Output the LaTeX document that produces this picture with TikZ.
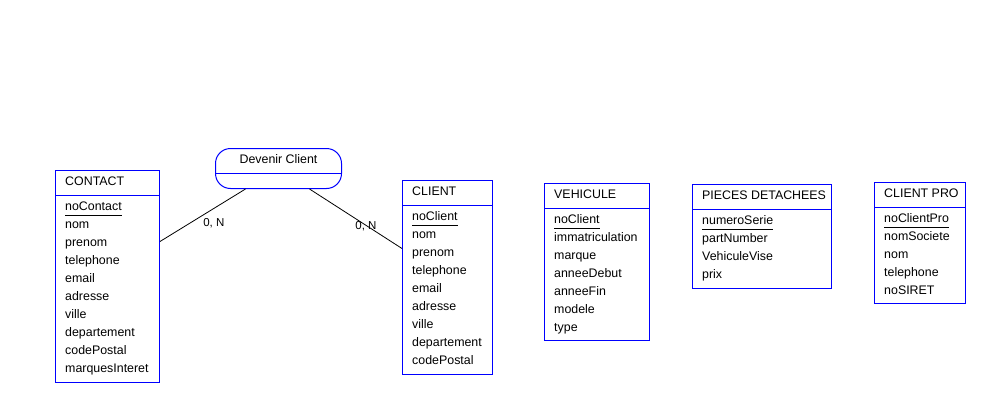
\documentclass[tikz,border=0pt]{standalone}
\usepackage{fontspec}
\setmainfont{Liberation Sans}
\usetikzlibrary{positioning}
\tikzset{
  entity/.style = {draw=blue, line width=1pt, anchor=north west,
    inner sep=0pt},
  attr/.style = {anchor=base west, inner sep=0pt,
    font=\fontsize{12.4}{14}\selectfont},
  assoc/.style = {entity, rounded corners=15pt},
  card/.style = {inner sep=1pt, font=\fontsize{11.5}{14}\selectfont}
}
% name, x, y, width, height, title, attributes
\newcommand{\mcdentity}[7]{%
  \node [entity, minimum width=#4pt, minimum height=#5pt] (#1) at (#2,#3) {};
  \node [attr] (#1-title) at ([xshift=10pt, yshift=-15.5pt]#1.north west) {#6};
  \draw [blue, line width=1pt] ([yshift=-25pt]#1.north west)
    -- ([yshift=-25pt]#1.north east);
  \foreach \a [count=\i] in {#7} {
    \pgfmathsetmacro{\dy}{-40.5-18*(\i-1)}
    \node [attr] (#1-\i) at ([xshift=10pt, yshift=\dy pt]#1.north west) {\a};
  }
  \draw [line width=1pt] ([yshift=-4.5pt]#1-1.base west)
    -- ([yshift=-4.5pt]#1-1.base east);
}

\begin{document}
\begin{tikzpicture}[x=1pt, y=-1pt]
\useasboundingbox (0,0) rectangle (995,412);

\mcdentity{contact}{55}{170}{104}{212}{CONTACT}
  {noContact, nom, prenom, telephone, email, adresse, ville,
   departement, codePostal, marquesInteret}
\mcdentity{client}{402}{180}{90}{194}{CLIENT}
  {noClient, nom, prenom, telephone, email, adresse, ville,
   departement, codePostal}
\mcdentity{vehicule}{544}{183}{105}{157}{VEHICULE}
  {noClient, immatriculation, marque, anneeDebut, anneeFin, modele, type}
\mcdentity{pieces}{692}{184}{139}{104}{PIECES DETACHEES}
  {numeroSerie, partNumber, VehiculeVise, prix}
\mcdentity{clientpro}{874}{182}{91}{121}{CLIENT PRO}
  {noClientPro, nomSociete, nom, telephone, noSIRET}

% association
\node [assoc, minimum width=126pt, minimum height=40pt] (devenir) at (215,148) {};
\node [attr, anchor=base] (devenir-title) at ([yshift=-15pt]devenir.north) {Devenir Client};
\draw [blue, line width=1pt] ([yshift=-25pt]devenir.north west)
  -- ([yshift=-25pt]devenir.north east);

\draw [line width=0.8pt] ([yshift=35pt]contact.east)
  -- node [card, pos=0.63, below=9pt] {0, N} ([xshift=-33pt]devenir.south);
\draw [line width=0.8pt] ([xshift=31pt]devenir.south)
  -- node [card, pos=0.61, yshift=-1pt] {0, N} ([yshift=29pt]client.west);
\end{tikzpicture}
\end{document}
